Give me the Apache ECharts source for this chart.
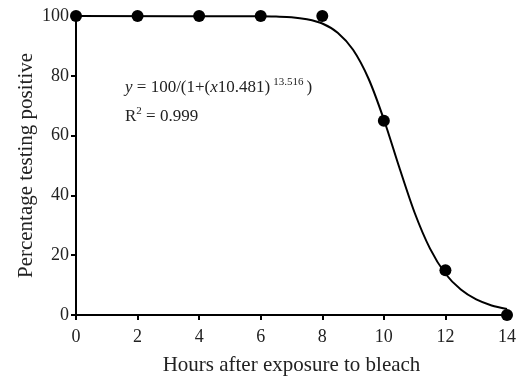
<!DOCTYPE html>
<html>
<head>
<meta charset="utf-8">
<script src="https://cdn.jsdelivr.net/npm/echarts@6/dist/echarts.min.js"></script>
<style>
  html, body { margin: 0; padding: 0; background: #fff; }
  #main { width: 522px; height: 377px; }
</style>
</head>
<body>
<div id="main"></div>
<script>
// observed points
var hours = [0, 2, 4, 6, 8, 10, 12, 14];
var positive = [100, 100, 100, 100, 100, 65, 15, 0];

// fitted curve
var curveX = [0, 6, 6.5, 7, 7.5, 8, 8.5, 9, 9.5, 10, 10.5, 11, 11.5, 12, 12.5, 13, 13.5, 14];
var curveY = [100, 99.9, 99.8, 99.6, 98.9, 97.5, 94.4, 88.7, 79.1, 65.4, 49.4, 34.2, 22.2, 13.8, 8.5, 5.2, 3.2, 2.0];

var chart = echarts.init(document.getElementById('main'));

var font = '"Liberation Serif", "Times New Roman", serif';

chart.setOption({
  animation: false,
  textStyle: { fontFamily: font },
  grid: { left: 76, right: 15, top: 16, bottom: 62, containLabel: false, outerBoundsMode: 'none' },
  xAxis: {
    type: 'value',
    min: 0, max: 14, interval: 2,
    name: 'Hours after exposure to bleach',
    nameLocation: 'middle',
    nameGap: 40,
    nameMoveOverlap: false,
    nameTextStyle: { fontSize: 21, color: '#222', fontFamily: font },
    axisLine: { lineStyle: { color: '#000', width: 2 } },
    axisTick: { show: true, length: 5, lineStyle: { color: '#000', width: 2 } },
    axisLabel: { fontSize: 18, color: '#222', fontFamily: font, margin: 13 },
    splitLine: { show: false }
  },
  yAxis: {
    type: 'value',
    min: 0, max: 100, interval: 20,
    name: 'Percentage testing positive',
    nameLocation: 'middle',
    nameGap: 39,
    nameMoveOverlap: false,
    nameTextStyle: { fontSize: 21, color: '#222', fontFamily: font },
    axisLine: { show: true, lineStyle: { color: '#000', width: 2 } },
    axisTick: { show: true, length: 5, lineStyle: { color: '#000', width: 2 } },
    axisLabel: { fontSize: 18, color: '#222', fontFamily: font, margin: 7 },
    splitLine: { show: false }
  },
  graphic: [
    {
      type: 'text',
      left: 125, top: 77,
      style: {
        text: '{i|y} = 100/(1+({i|x}10.481){s|13.516})',
        fontSize: 17, fontFamily: font, fill: '#222',
        rich: {
          i: { fontStyle: 'italic', fontSize: 17, fontFamily: font },
          s: { fontSize: 11, fontFamily: font, padding: [0, 3, 11, 3] }
        }
      }
    },
    {
      type: 'text',
      left: 125, top: 106,
      style: {
        text: 'R{s|2} = 0.999',
        fontSize: 17, fontFamily: font, fill: '#222',
        rich: {
          s: { fontSize: 11, fontFamily: font, padding: [0, 0, 10, 0] }
        }
      }
    }
  ],
  series: [
    {
      type: 'line',
      data: curveX.map(function (x, i) { return [x, curveY[i]]; }),
      smooth: 0.3,
      showSymbol: false,
      lineStyle: { color: '#000', width: 2 },
      z: 2
    },
    {
      type: 'scatter',
      data: hours.map(function (h, i) { return [h, positive[i]]; }),
      symbol: 'circle',
      symbolSize: 12,
      itemStyle: { color: '#000', opacity: 1 },
      z: 3
    }
  ]
});
</script>
</body>
</html>
